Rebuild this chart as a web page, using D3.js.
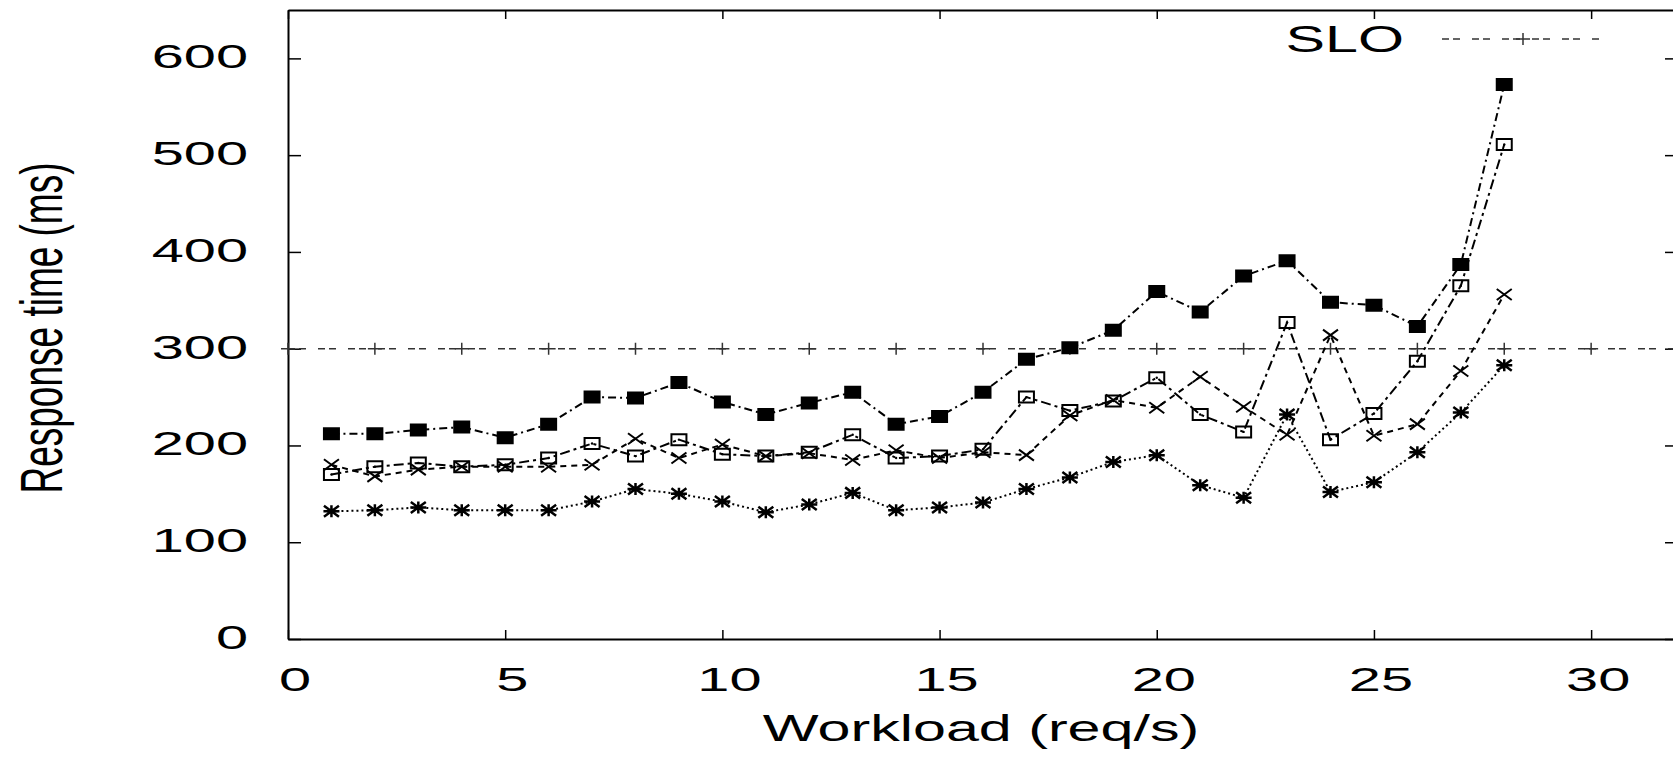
<!DOCTYPE html>
<html>
<head>
<meta charset="utf-8">
<script src="https://cdn.jsdelivr.net/npm/d3@7"></script>
<style>
  body { margin: 0; background: #fff; }
  svg { display: block; }
  text { font-family: "Liberation Sans", Arial, Helvetica, sans-serif; font-size: 37px; fill: #000; }
  .tick-label { font-size: 33px; }
</style>
</head>
<body>
<svg id="chart" width="1673" height="757"></svg>
<script>
// values, one array per series
var workload  = [1, 2, 3, 4, 5, 6, 7, 8, 9, 10, 11, 12, 13, 14, 15, 16, 17, 18, 19, 20, 21, 22, 23, 24, 25, 26, 27, 28];
var filledSq  = [212, 212, 216, 219, 208, 222, 250, 249, 265, 245, 232, 244, 255, 222, 230, 255, 289, 301, 319, 359, 338, 375, 391, 348, 345, 323, 387, 573];
var openSq    = [170, 178, 182, 178, 180, 187, 202, 189, 206, 191, 189, 193, 211, 187, 189, 196, 250, 236, 246, 270, 232, 214, 327, 206, 233, 287, 365, 511];
var crosses   = [180, 168, 175, 178, 178, 178, 180, 207, 187, 201, 189, 192, 185, 195, 187, 193, 190, 231, 247, 239, 271, 240, 211, 314, 210, 222, 277, 356];
var stars     = [132, 133, 136, 133, 133, 133, 142, 155, 150, 142, 131, 139, 151, 133, 136, 141, 155, 167, 183, 190, 159, 146, 232, 152, 162, 193, 234, 283];
var sloX      = [0, 2, 4, 6, 8, 10, 12, 14, 16, 18, 20, 22, 24, 26, 28, 30, 32];
var sloValue  = 300;
var xTicks    = [0, 5, 10, 15, 20, 25, 30];
var yTicks    = [0, 100, 200, 300, 400, 500, 600];

var plotL = 288, plotR = 1678, plotT = 10, plotB = 639;
var sx = 1.6;    // the original is stretched sideways
var sxTick = 1.75;

var svg = d3.select("#chart");

var x = d3.scaleLinear().domain([0, 32]).range([plotL, plotR]);
var y = d3.scaleLinear().domain([0, 650]).range([plotB, plotT]);

// frame + inward ticks on all four sides
function styleAxis(g) {
  g.selectAll("path").attr("stroke", "#000").attr("stroke-width", 2);
  g.selectAll("line").attr("stroke", "#000").attr("stroke-width", 1.5);
}
svg.append("g").attr("transform", "translate(0," + plotB + ")")
  .call(d3.axisBottom(x).tickValues(xTicks).tickSize(-9).tickSizeOuter(0).tickFormat(""))
  .call(styleAxis);
svg.append("g").attr("transform", "translate(0," + plotT + ")")
  .call(d3.axisTop(x).tickValues(xTicks).tickSize(-9).tickSizeOuter(0).tickFormat(""))
  .call(styleAxis);
svg.append("g").attr("transform", "translate(" + plotL + ",0)")
  .call(d3.axisLeft(y).tickValues(yTicks).tickSize(-13).tickSizeOuter(0).tickFormat(""))
  .call(styleAxis);
svg.append("g").attr("transform", "translate(" + plotR + ",0)")
  .call(d3.axisRight(y).tickValues(yTicks).tickSize(-13).tickSizeOuter(0).tickFormat(""))
  .call(styleAxis);

// tick labels
svg.append("g").selectAll("text").data(xTicks).enter().append("text")
  .attr("class", "tick-label")
  .attr("text-anchor", "middle")
  .attr("transform", function(d) { return "translate(" + (x(d) + 7) + ",691) scale(" + sxTick + ",1)"; })
  .text(function(d) { return d; });

svg.append("g").selectAll("text").data(yTicks).enter().append("text")
  .attr("class", "tick-label")
  .attr("text-anchor", "end")
  .attr("transform", function(d) { return "translate(248," + (y(d) + 10) + ") scale(" + sxTick + ",1)"; })
  .text(function(d) { return d; });

// axis titles
svg.append("text")
  .attr("text-anchor", "middle")
  .attr("transform", "translate(981,741) scale(" + sx + ",1)")
  .text("Workload (req/s)");

svg.append("text")
  .attr("text-anchor", "middle")
  .attr("transform", "translate(62,328) scale(" + sx + ",1) rotate(-90)")
  .text("Response time (ms)");

// markers
var shapes = {
  filled: "M-7.5,-5.5h15v11h-15Z",
  open:   "M-7.5,-5.5h15v11h-15Z",
  cross:  "M-7.5,-5.5L7.5,5.5M-7.5,5.5L7.5,-5.5",
  star:   "M-7.5,-5.5L7.5,5.5M-7.5,5.5L7.5,-5.5M-8,0H8M0,-6V6",
  plus:   "M-7,0H7M0,-6V6"
};

function series(vals, dash, shape) {
  var pts = workload.map(function(w, i) { return [w, vals[i]]; });
  var line = d3.line().x(function(d) { return x(d[0]); }).y(function(d) { return y(d[1]); });
  svg.append("path").datum(pts)
    .attr("d", line)
    .attr("fill", "none")
    .attr("stroke", "#000")
    .attr("stroke-width", 2)
    .attr("stroke-dasharray", dash);
  var g = svg.append("g");
  g.selectAll("path").data(pts).enter().append("path")
    .attr("transform", function(d) { return "translate(" + x(d[0]) + "," + y(d[1]) + ")"; })
    .attr("d", shapes[shape])
    .attr("fill", shape == "filled" ? "#000" : "none")
    .attr("stroke", "#000")
    .attr("stroke-width", shape == "star" ? 2.5 : 2);
  if (shape == "open") {
    g.selectAll("circle").data(pts).enter().append("circle")
      .attr("cx", function(d) { return x(d[0]); })
      .attr("cy", function(d) { return y(d[1]); })
      .attr("r", 1.2).attr("fill", "#000");
  }
}

// SLO reference line
svg.append("line")
  .attr("x1", x(0)).attr("x2", x(32))
  .attr("y1", y(sloValue)).attr("y2", y(sloValue))
  .attr("stroke", "#333").attr("stroke-width", 1.5)
  .attr("stroke-dasharray", "7,4,7,12");
svg.append("g").selectAll("path").data(sloX).enter().append("path")
  .attr("transform", function(d) { return "translate(" + x(d) + "," + y(sloValue) + ")"; })
  .attr("d", shapes.plus)
  .attr("stroke", "#333").attr("stroke-width", 1.5);

series(stars, "2,3", "star");
series(crosses, "6,5", "cross");
series(openSq, "10,4,3,4", "open");
series(filledSq, "8,4,2,4", "filled");

// legend
svg.append("text")
  .attr("text-anchor", "end")
  .attr("transform", "translate(1404,52) scale(" + sx + ",1)")
  .text("SLO");
svg.append("line")
  .attr("x1", 1442).attr("x2", 1600).attr("y1", 39).attr("y2", 39)
  .attr("stroke", "#333").attr("stroke-width", 1.5)
  .attr("stroke-dasharray", "7,4,7,12");
svg.append("path")
  .attr("transform", "translate(1523,39)")
  .attr("d", shapes.plus)
  .attr("stroke", "#333").attr("stroke-width", 1.5);
</script>
</body>
</html>
